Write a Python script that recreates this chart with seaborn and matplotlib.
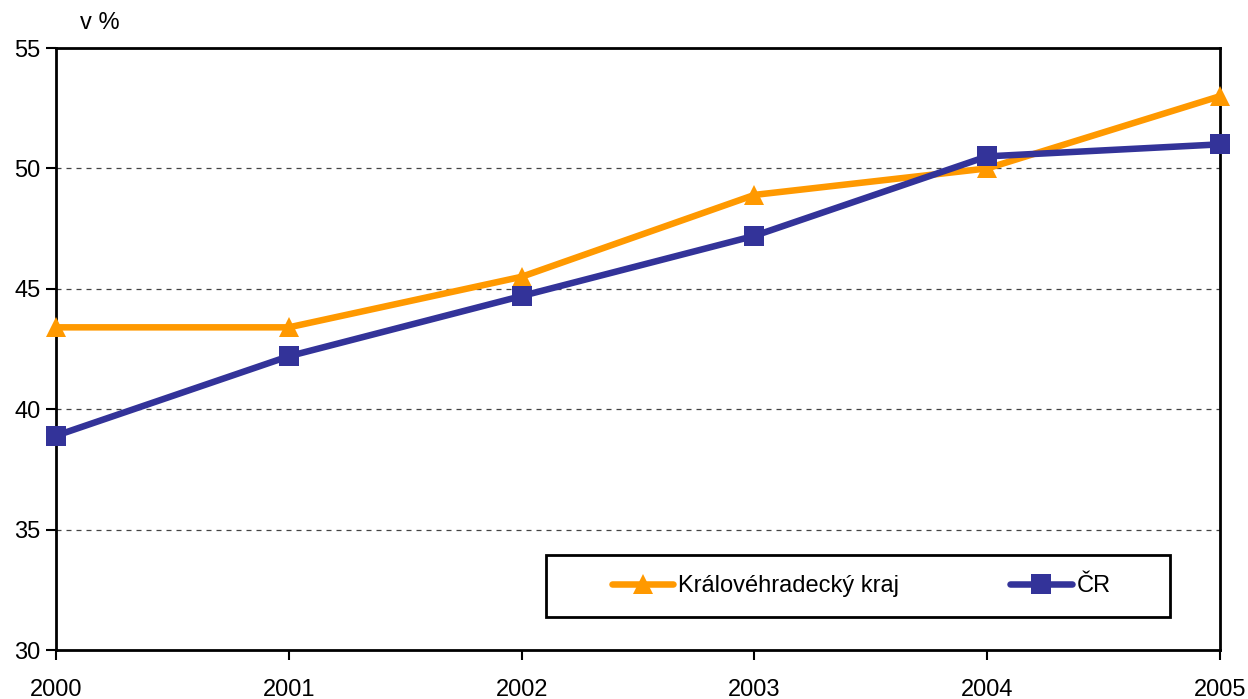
import matplotlib
matplotlib.use("Agg")
import matplotlib.pyplot as plt
import seaborn as sns
import pandas as pd
from matplotlib.patches import Rectangle

years = [2000, 2001, 2002, 2003, 2004, 2005]
kraj = [43.4, 43.4, 45.5, 48.9, 50.0, 53.0]
cr = [38.9, 42.2, 44.7, 47.2, 50.5, 51.0]
series_names = ["Královéhradecký kraj", "ČR"]
yticks = [30, 35, 40, 45, 50, 55]

sns.set_theme(style="white")
plt.rcParams['font.family'] = ['Liberation Sans', 'DejaVu Sans']
plt.rcParams['text.color'] = 'black'

df = pd.DataFrame({
    "rok": years * 2,
    "hodnota": kraj + cr,
    "serie": [series_names[0]] * len(years) + [series_names[1]] * len(years),
})

fig = plt.figure(figsize=(12.48, 6.99), dpi=100)
ax = fig.add_axes([0.0449, 0.0701, 0.9327, 0.8612])

palette = {series_names[0]: "#FF9900", series_names[1]: "#333399"}
markers = {series_names[0]: "^", series_names[1]: "s"}
sns.lineplot(data=df, x="rok", y="hodnota", hue="serie", style="serie",
             palette=palette, markers=markers, dashes=False, linewidth=4.7,
             markersize=14, markeredgewidth=0, ax=ax, legend=True)
for ln in ax.lines:
    ln.set_clip_on(False)
    ln.set_zorder(5)

ax.set_xlim(2000, 2005)
ax.set_ylim(30, 55)
ax.set_yticks(yticks)
ax.set_xticks(years)
ax.set_xticklabels([str(y) for y in years])
ax.set_xlabel("")
ax.set_ylabel("")
for y in yticks[1:-1]:
    ax.axhline(y, color="#444444", linestyle=(0, (4, 4)), linewidth=0.9, zorder=0)
for s in ax.spines.values():
    s.set_visible(True)
    s.set_color("black")
    s.set_linewidth(2)
    s.set_zorder(4)
ax.tick_params(axis="both", which="both", direction="out", length=7, width=1.5,
               labelsize=17, colors="black", left=True, bottom=True)
ax.tick_params(axis="x", pad=14)
ax.tick_params(axis="y", pad=4)

ax.add_patch(Rectangle((0.421, 0.0548), 0.536, 0.1032, transform=ax.transAxes,
                       facecolor="white", edgecolor="black", linewidth=2, zorder=6))

handles, labels = ax.get_legend_handles_labels()
leg = ax.legend(handles, labels, loc="center left", bbox_to_anchor=(0.4777, 0.1063),
                ncol=2, frameon=False, fontsize=17, handlelength=2.6,
                borderaxespad=0, borderpad=0, handletextpad=0.2, columnspacing=4.7)
leg.set_zorder(7)
for t in leg.get_texts():
    t.set_color("black")
for h in leg.legend_handles:
    h.set_solid_capstyle("round")

fig.text(0.064, 0.967, "v %", fontsize=17, ha="left", va="center", color="black")

fig.savefig("out.png", dpi=100)
